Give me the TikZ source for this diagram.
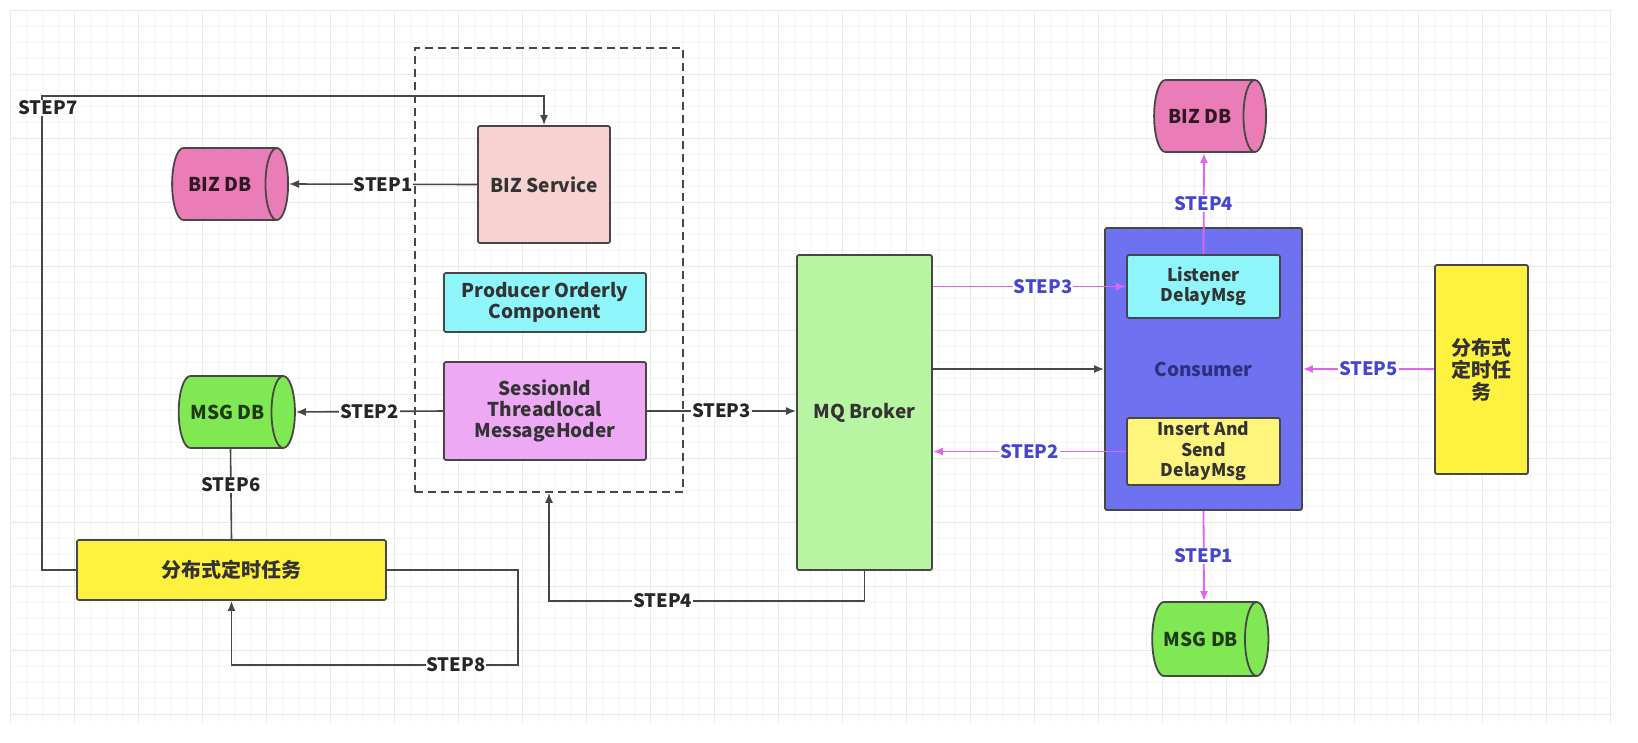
\documentclass[tikz,border=0pt]{standalone}
\usepackage{fontspec}
\setmainfont{Noto Sans CJK SC}
\usetikzlibrary{shapes.geometric,arrows.meta}
\definecolor{edge}{HTML}{474747}
\definecolor{svcpink}{HTML}{F6D3D1}
\definecolor{cyanbox}{HTML}{8EF6FA}
\definecolor{violetbox}{HTML}{EDA9F4}
\definecolor{dbpink}{HTML}{EA7DB7}
\definecolor{dbgreen}{HTML}{80E853}
\definecolor{brokergreen}{HTML}{B7F5A3}
\definecolor{consblue}{HTML}{6E72F0}
\definecolor{yellowbox}{HTML}{FFF23E}
\definecolor{yellowlight}{HTML}{FFF47C}
\definecolor{magline}{HTML}{E064EE}
\definecolor{bluetext}{HTML}{4545D2}
\definecolor{navytext}{HTML}{2C307E}
\tikzset{
  x=1pt,y=-1pt,
  boxnode/.style={draw=edge,line width=1.8pt,rounded corners=2pt,inner sep=0pt,align=center,
    font=\bfseries\fontsize{19}{21}\selectfont,text=black!80},
  smallbox/.style={boxnode,font=\bfseries\fontsize{17.5}{20.5}\selectfont},
  dbnode/.style={cylinder,draw=edge,line width=1.8pt,shape aspect=1.6,inner sep=0pt,
    font=\bfseries\fontsize{19}{21}\selectfont},
  conn/.style={draw=edge,line width=1.6pt},
  arr/.style={-{Latex[length=10pt,width=8pt]}},
  magconn/.style={draw=magline,line width=1.8pt},
  lbl/.style={fill=white,inner sep=1pt,text=black!85,font=\bfseries\fontsize{18.5}{20}\selectfont},
  blbl/.style={fill=white,inner sep=1pt,text=bluetext,font=\bfseries\fontsize{18.5}{20}\selectfont},
}
\begin{document}
\begin{tikzpicture}
\useasboundingbox (0,0) rectangle (1638,742);
\fill[white] (0,0) rectangle (1638,742);
% background grid
\foreach \gx in {10,26,...,1610} \draw[black!4,line width=0.8pt] (\gx,10) -- (\gx,722);
\foreach \gy in {10,26,...,722} \draw[black!4,line width=0.8pt] (10,\gy) -- (1612,\gy);
\foreach \gx in {10,74,...,1610} \draw[black!9,line width=1pt] (\gx,10) -- (\gx,722);
\foreach \gy in {10,74,...,722} \draw[black!9,line width=1pt] (10,\gy) -- (1612,\gy);

% left group
\node[draw=edge,dash pattern=on 8pt off 5pt,line width=1.6pt,minimum width=268pt,minimum height=444pt,inner sep=0pt] (dbox) at (549,270) {};
\node[boxnode,fill=svcpink,minimum width=132pt,minimum height=117pt] (svc) at (544,184.5) {BIZ Service};
\node[boxnode,fill=cyanbox,minimum width=202pt,minimum height=59pt] (prod) at (545,302.5) {Producer Orderly\\Component};
\node[boxnode,fill=violetbox,minimum width=202pt,minimum height=98pt] (sess) at (545,411) {SessionId\\Threadlocal\\MessageHoder};
\node[dbnode,fill=dbpink,text=black!80!dbpink,minimum width=72pt,minimum height=116pt] (bizdbl) at (224,184) {BIZ DB\hspace*{8pt}};
\node[dbnode,fill=dbgreen,text=black!75!dbgreen,minimum width=72pt,minimum height=115pt] (msgdbl) at (230.5,412) {MSG DB\hspace*{6pt}};
\node[boxnode,fill=yellowbox,minimum width=309pt,minimum height=60pt,font=\bfseries\fontsize{20}{24}\selectfont] (task) at (231.5,570) {分布式定时任务};

% broker
\node[boxnode,fill=brokergreen,minimum width=135pt,minimum height=315pt] (broker) at (864.5,412.5) {MQ Broker};

% consumer side
\node[boxnode,fill=consblue,text=navytext,minimum width=197pt,minimum height=282pt] (cons) at (1203.5,369) {Consumer};
\node[smallbox,fill=cyanbox,minimum width=153pt,minimum height=63pt] (lis) at (1203.5,286.5) {Listener\\DelayMsg};
\node[smallbox,fill=yellowlight,minimum width=153pt,minimum height=67pt] (ins) at (1203.5,451.5) {Insert And\\Send\\DelayMsg};
\node[dbnode,fill=dbpink,text=black!80!dbpink,minimum width=72pt,minimum height=112pt] (bizdbr) at (1204,116) {BIZ DB\hspace*{8pt}};
\node[dbnode,fill=dbgreen,text=black!75!dbgreen,minimum width=74pt,minimum height=112pt] (msgdbr) at (1204,639) {MSG DB\hspace*{6pt}};
\node[boxnode,fill=yellowbox,minimum width=93pt,minimum height=209pt,font=\bfseries\fontsize{20}{22}\selectfont] (rtask) at (1481.5,369.5) {分布式\\定时任\\务};

% left connectors
\draw[conn,arr] (svc.west) -- node[lbl]{STEP1} (bizdbl.east);
\draw[conn,arr] (sess.west) -- node[lbl]{STEP2} (msgdbl.east);
\draw[conn,arr] (sess.east) -- node[lbl]{STEP3} (broker.west |- sess.east);
\draw[conn] (msgdbl.south) -- node[lbl,pos=0.4]{STEP6} (task.north);
\coordinate (c7) at (42,96);
\draw[conn,arr] (task.west) -| (c7) -| (svc.north);
\node[lbl] (l7) at (48,108) {STEP7};
\draw[conn,arr] (broker.south) -- ++(0,30) -| node[lbl,pos=0.32]{STEP4} (dbox.south);
\coordinate (c8) at (518,665);
\draw[conn,arr] (task.east) -| (c8) -| (task.south);
\node[lbl] (l8) at (456,665) {STEP8};

% right connectors
\draw[magconn,arr] (broker.east |- lis.west) -- node[blbl,pos=0.57]{STEP3} (lis.west);
\draw[conn,arr] (broker.east |- cons.west) -- (cons.west);
\draw[magconn,arr] (ins.west) -- node[blbl]{STEP2} (broker.east |- ins.west);
\draw[magconn,arr] (rtask.west |- cons.east) -- node[blbl]{STEP5} (cons.east);
\draw[magconn,arr] (lis.north) -- node[blbl,pos=0.5]{STEP4} (bizdbr.south);
\draw[magconn,arr] (cons.south) -- node[blbl]{STEP1} (msgdbr.north);
\end{tikzpicture}
\end{document}
